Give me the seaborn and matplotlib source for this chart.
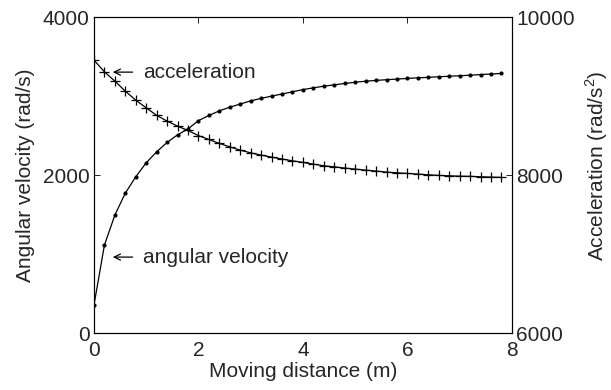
import numpy as np
import pandas as pd
import matplotlib
matplotlib.use("Agg")
import matplotlib.pyplot as plt
import seaborn as sns

# Moving distance samples (m)
distance = [0.0, 0.2, 0.4, 0.6, 0.8, 1.0, 1.2, 1.4, 1.6, 1.8,
            2.0, 2.2, 2.4, 2.6, 2.8, 3.0, 3.2, 3.4, 3.6, 3.8,
            4.0, 4.2, 4.4, 4.6, 4.8, 5.0, 5.2, 5.4, 5.6, 5.8,
            6.0, 6.2, 6.4, 6.6, 6.8, 7.0, 7.2, 7.4, 7.6, 7.8]

# Angular velocity (rad/s)
angular_velocity = [354, 1114, 1494, 1772, 1979, 2156, 2295, 2414, 2510, 2585,
                    2690, 2755, 2814, 2860, 2900, 2940, 2972, 3000, 3027, 3055,
                    3083, 3105, 3126, 3143, 3160, 3176, 3189, 3199, 3208, 3216,
                    3224, 3232, 3238, 3245, 3252, 3258, 3265, 3273, 3280, 3287]

# Acceleration (rad/s^2)
acceleration = [9456, 9308, 9190, 9063, 8949, 8852, 8756, 8684, 8620, 8565,
                8500, 8451, 8401, 8358, 8316, 8282, 8253, 8228, 8203, 8181,
                8161, 8139, 8118, 8105, 8089, 8076, 8063, 8051, 8038, 8029,
                8021, 8013, 8004, 7996, 7991, 7987, 7984, 7979, 7975, 7971]

x_ticks = [0, 2, 4, 6, 8]
left_ticks = [0, 2000, 4000]
right_ticks = [6000, 8000, 10000]

sns.set_style("white")
plt.rcParams["font.family"] = ["Liberation Sans", "DejaVu Sans"]
plt.rcParams["mathtext.fontset"] = "custom"
plt.rcParams["mathtext.rm"] = "Liberation Sans"
plt.rcParams["xtick.direction"] = "in"
plt.rcParams["ytick.direction"] = "in"

FS = 15

df = pd.DataFrame({"distance": distance,
                   "omega": angular_velocity,
                   "accel": acceleration})

fig = plt.figure(figsize=(6.11, 3.90), dpi=100)
ax = fig.add_axes([0.1538, 0.146, 0.684, 0.810])

sns.lineplot(data=df, x="distance", y="omega", ax=ax, color="black",
             linewidth=0.9, marker="o", markersize=3, markeredgewidth=0)
ax.set_xlim(0, 8)
ax.set_ylim(0, 4000)
ax.set_xticks(x_ticks)
ax.set_yticks(left_ticks)
ax.set_xticklabels([str(v) for v in x_ticks])
ax.set_yticklabels([str(v) for v in left_ticks])
ax.set_xlabel("Moving distance (m)", fontsize=FS, labelpad=1)
ax.set_ylabel("Angular velocity (rad/s)", fontsize=FS, labelpad=6)
ax.tick_params(axis="both", labelsize=FS, length=4, width=0.6,
               top=True, color="black")
ax.tick_params(axis="x", pad=6)
ax.tick_params(axis="y", pad=3)

ax2 = ax.twinx()
sns.lineplot(data=df, x="distance", y="accel", ax=ax2, color="black",
             linewidth=0.9, marker="+", markersize=7.5, markeredgewidth=0.9,
             markeredgecolor="black")
ax2.set_ylim(6000, 10000)
ax2.set_yticks(right_ticks)
ax2.set_yticklabels([str(v) for v in right_ticks])
ax2.set_ylabel("Acceleration (rad/s$^2$)", fontsize=FS, labelpad=6)
ax2.yaxis.label.set_y(0.53)
ax2.tick_params(axis="y", labelsize=FS, length=4, width=0.6, pad=3,
                direction="in", color="black")

for a in (ax, ax2):
    for s in a.spines.values():
        s.set_color("black")
        s.set_linewidth(0.8)

# Curve labels with left-pointing arrows
arrow_style = dict(arrowstyle="->,head_length=0.45,head_width=0.22",
                   color="black", linewidth=0.9, shrinkA=0, shrinkB=0)
labels = [("acceleration", 3228, 3304), ("angular velocity", 886, 962)]
for name, base_y, arrow_y in labels:
    ax.text(0.94, base_y, name, fontsize=FS, va="baseline", ha="left")
    ax.annotate("", xy=(0.36, arrow_y), xytext=(0.74, arrow_y),
                arrowprops=arrow_style)

fig.savefig("out.png", dpi=100)
